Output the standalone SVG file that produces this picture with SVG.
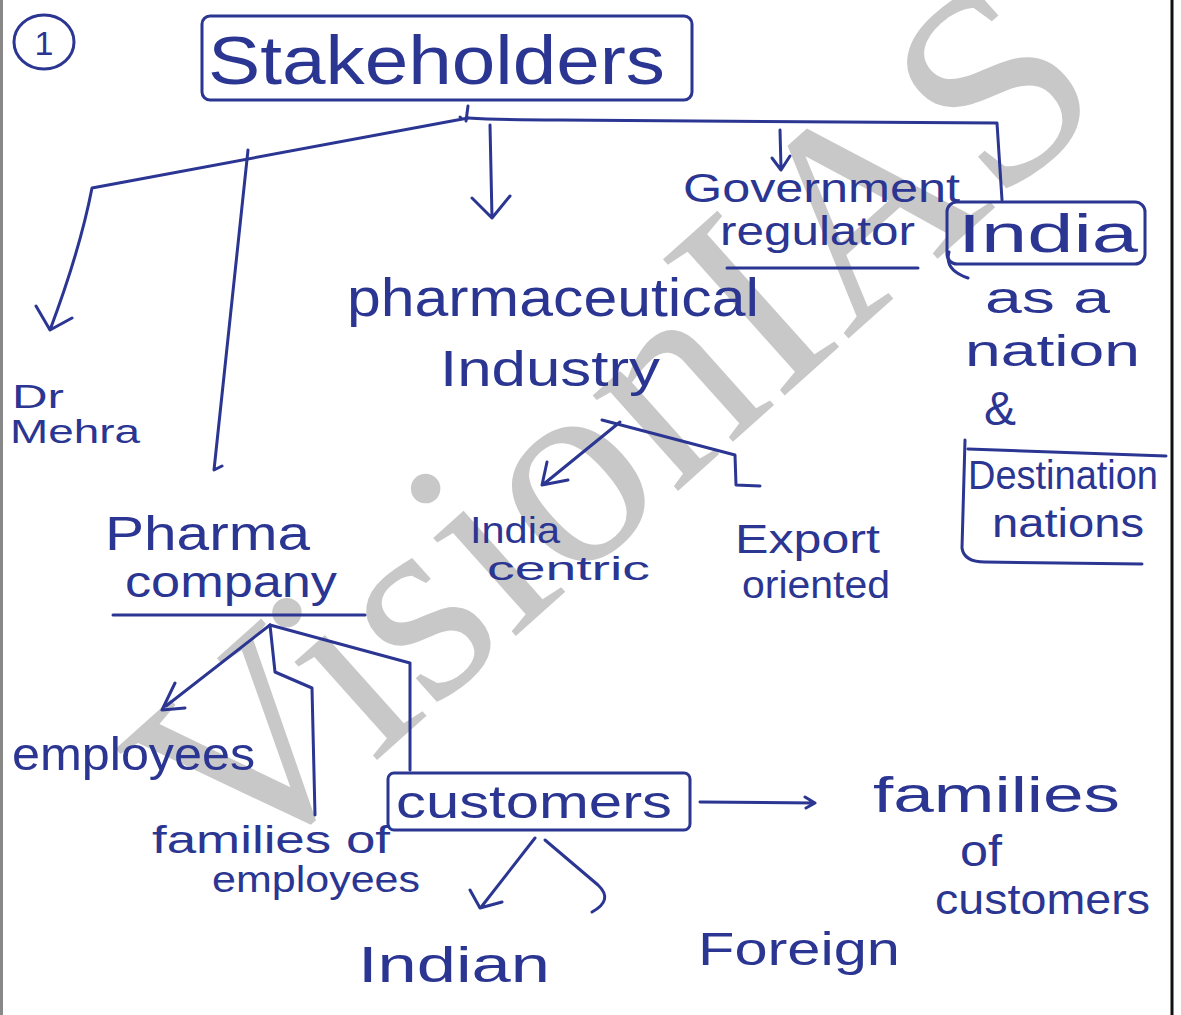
<svg xmlns="http://www.w3.org/2000/svg" width="1181" height="1015" viewBox="0 0 1181 1015">
<style>
.ink{fill:none;stroke:#2b3592;stroke-width:3;stroke-linecap:round;stroke-linejoin:round}
.t{font-family:"Liberation Sans","DejaVu Sans",sans-serif;fill:#2b3592}
.wm{font-family:"Liberation Serif","DejaVu Serif",serif;fill:#c8c8c8}
</style>
<rect width="1181" height="1015" fill="#ffffff"/>
<text class="wm" x="235" y="887" font-size="279" transform="rotate(-41.8 235 887)">VisionIAS</text>
<line x1="1172" y1="0" x2="1172" y2="1015" stroke="#111" stroke-width="3"/>
<rect x="0" y="0" width="3" height="1015" fill="#888"/>

<g id="connectors" class="ink">
<path d="M468,106 L466,121 M460,117 L461,118"/>
<path d="M468,118 L92,188 Q80,250 50,330 M36,306 L50,330 L72,318"/>
<path d="M468,118 Q500,120 560,120 L997,123 L1002,200"/>
<path d="M248,150 L214,470 L222,466"/>
<path d="M490,125 L492,218 M472,198 L492,218 L510,196"/>
<path d="M780,130 L781,168 M772,158 L781,170 L790,156"/>
<path d="M620,422 L545,483 M547,462 L542,485 L568,480"/>
<path d="M602,420 L735,455 L736,485 L760,486"/>
<path d="M270,625 L166,706 M175,683 L162,710 L185,708"/>
<path d="M270,625 L275,672 L312,688 L315,815"/>
<path d="M270,625 L410,663 L410,770"/>
<path d="M700,802 L815,803 M805,797 L815,803 L806,808"/>
<path d="M535,838 L482,906 M470,890 L480,908 L502,902"/>
<path d="M545,840 L598,885 Q614,900 592,912"/>
</g>

<g id="n-num">
<ellipse class="ink" cx="44" cy="42" rx="30" ry="27"/>
<text class="t" x="44" y="55" font-size="34" text-anchor="middle">1</text>
</g>
<g id="n-stakeholders">
<rect class="ink" x="202" y="16" width="490" height="84" rx="8"/>
<text class="t" x="208" y="84" font-size="68" textLength="457" lengthAdjust="spacingAndGlyphs">Stakeholders</text>
</g>
<g id="n-government">
<text class="t" x="683" y="202" font-size="40" textLength="277" lengthAdjust="spacingAndGlyphs">Government</text>
<text class="t" x="720" y="245" font-size="40" textLength="195" lengthAdjust="spacingAndGlyphs">regulator</text>
<line class="ink" x1="727" y1="268" x2="918" y2="268"/>
</g>
<g id="n-india">
<rect class="ink" x="947" y="202" width="198" height="62" rx="10"/>
<path class="ink" d="M949,252 Q944,270 968,278"/>
<text class="t" x="958" y="252" font-size="54" textLength="180" lengthAdjust="spacingAndGlyphs">India</text>
<text class="t" x="985" y="313" font-size="44" textLength="125" lengthAdjust="spacingAndGlyphs">as a</text>
<text class="t" x="965" y="366" font-size="44" textLength="175" lengthAdjust="spacingAndGlyphs">nation</text>
<text class="t" x="1000" y="425" font-size="48" text-anchor="middle">&amp;</text>
</g>
<g id="n-destination">
<path class="ink" d="M965,440 L962,548 Q964,562 985,562 L1142,564 M968,449 L1166,456"/>
<text class="t" x="968" y="489" font-size="40" textLength="190" lengthAdjust="spacingAndGlyphs">Destination</text>
<text class="t" x="992" y="537" font-size="40" textLength="152" lengthAdjust="spacingAndGlyphs">nations</text>
</g>
<g id="n-pharma-industry">
<text class="t" x="347" y="316" font-size="54" textLength="412" lengthAdjust="spacingAndGlyphs">pharmaceutical</text>
<text class="t" x="440" y="386" font-size="50" textLength="220" lengthAdjust="spacingAndGlyphs">Industry</text>
</g>
<g id="n-drmehra">
<text class="t" x="12" y="408" font-size="33" textLength="52" lengthAdjust="spacingAndGlyphs">Dr</text>
<text class="t" x="10" y="443" font-size="33" textLength="130" lengthAdjust="spacingAndGlyphs">Mehra</text>
</g>
<g id="n-pharma-company">
<text class="t" x="105" y="550" font-size="48" textLength="205" lengthAdjust="spacingAndGlyphs">Pharma</text>
<text class="t" x="125" y="597" font-size="44" textLength="212" lengthAdjust="spacingAndGlyphs">company</text>
<line class="ink" x1="113" y1="615" x2="365" y2="615"/>
</g>
<g id="n-india-centric">
<text class="t" x="470" y="543" font-size="36" textLength="90" lengthAdjust="spacingAndGlyphs">India</text>
<text class="t" x="487" y="580" font-size="34" textLength="163" lengthAdjust="spacingAndGlyphs">centric</text>
</g>
<g id="n-export">
<text class="t" x="735" y="553" font-size="40" textLength="145" lengthAdjust="spacingAndGlyphs">Export</text>
<text class="t" x="742" y="598" font-size="38" textLength="148" lengthAdjust="spacingAndGlyphs">oriented</text>
</g>
<g id="n-employees">
<text class="t" x="12" y="770" font-size="46" textLength="243" lengthAdjust="spacingAndGlyphs">employees</text>
</g>
<g id="n-families-emp">
<text class="t" x="152" y="853" font-size="38" textLength="238" lengthAdjust="spacingAndGlyphs">families of</text>
<text class="t" x="212" y="892" font-size="36" textLength="208" lengthAdjust="spacingAndGlyphs">employees</text>
</g>
<g id="n-customers">
<rect class="ink" x="388" y="773" width="302" height="57" rx="6"/>
<text class="t" x="396" y="818" font-size="46" textLength="276" lengthAdjust="spacingAndGlyphs">customers</text>
</g>
<g id="n-families-cust">
<text class="t" x="873" y="812" font-size="50" textLength="247" lengthAdjust="spacingAndGlyphs">families</text>
<text class="t" x="960" y="866" font-size="44" textLength="42" lengthAdjust="spacingAndGlyphs">of</text>
<text class="t" x="935" y="914" font-size="42" textLength="215" lengthAdjust="spacingAndGlyphs">customers</text>
</g>
<g id="n-indian">
<text class="t" x="358" y="982" font-size="50" textLength="192" lengthAdjust="spacingAndGlyphs">Indian</text>
</g>
<g id="n-foreign">
<text class="t" x="698" y="965" font-size="46" textLength="202" lengthAdjust="spacingAndGlyphs">Foreign</text>
</g>
</svg>
